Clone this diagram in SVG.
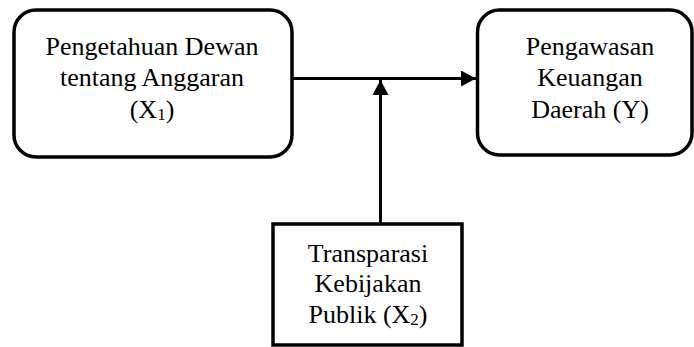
<svg xmlns="http://www.w3.org/2000/svg" width="694" height="347" viewBox="0 0 694 347">
<defs>
<style>
.box{fill:#fff;stroke:#000;stroke-width:3.5}
.t{font-family:"Liberation Serif","Times New Roman",serif;font-size:26px;fill:#000;text-anchor:middle}
.sub{font-size:17px}
.ln{stroke:#000;stroke-width:3;fill:none}
</style>
<marker id="ah" markerUnits="userSpaceOnUse" markerWidth="16" markerHeight="16" refX="15" refY="8" orient="auto">
<path d="M0,0 L15,8 L0,16 Z" fill="#000"/>
</marker>
</defs>
<rect width="694" height="347" fill="#fff"/>
<g id="connectors">
<line class="ln" x1="292" y1="78.5" x2="476" y2="78.5" marker-end="url(#ah)"/>
<line class="ln" x1="380.5" y1="224" x2="380.5" y2="80" marker-end="url(#ah)"/>
</g>
<g id="x1">
<rect class="box" x="14" y="10" width="278" height="147" rx="22"/>
<text class="t" x="152" y="55">Pengetahuan Dewan</text>
<text class="t" x="152" y="86">tentang Anggaran</text>
<text class="t" x="152" y="118">(X<tspan class="sub" dy="2">1</tspan><tspan dy="-2">)</tspan></text>
</g>
<g id="y">
<rect class="box" x="477.5" y="10" width="214.5" height="145" rx="22"/>
<text class="t" x="590" y="55">Pengawasan</text>
<text class="t" x="590" y="86">Keuangan</text>
<text class="t" x="590" y="118">Daerah (Y)</text>
</g>
<g id="x2">
<rect class="box" x="273" y="224" width="189" height="121"/>
<text class="t" x="368" y="262">Transparasi</text>
<text class="t" x="368" y="292">Kebijakan</text>
<text class="t" x="368" y="323">Publik (X<tspan class="sub" dy="2">2</tspan><tspan dy="-2">)</tspan></text>
</g>
</svg>
